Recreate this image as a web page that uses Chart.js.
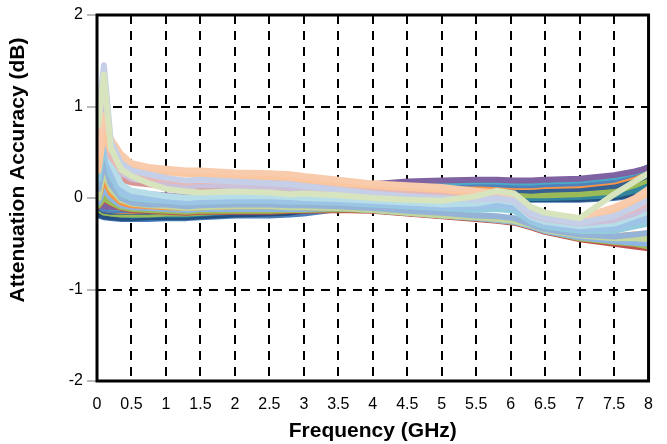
<!DOCTYPE html>
<html>
<head>
<meta charset="utf-8">
<script src="https://cdn.jsdelivr.net/npm/chart.js@4"></script>
<style>
  body { margin: 0; background: #fff; }
  canvas { display: block; }
</style>
</head>
<body>
<canvas id="mainChart" width="667" height="444"></canvas>
<script>
// frequency points (GHz)
const freqGHz = [0.02, 0.1, 0.2, 0.35, 0.5, 0.75, 1, 1.3, 1.5, 2, 2.5, 2.8, 3, 3.5, 4, 4.5, 5, 5.5, 5.8, 6.05, 6.3, 6.5, 7, 7.5, 7.8, 8];

// lighter traces (spike at low frequency, drop after 6 GHz)
const lightGreen = [0.8, 1.35, 0.55, 0.31, 0.24, 0.16, 0.1, 0.07, 0.06, 0.07, 0.06, 0.04, 0.05, 0.03, 0.0, -0.02, -0.03, 0.02, 0.08, 0.05, -0.1, -0.16, -0.22, 0.04, 0.18, 0.27];
const paleBlue = [0.9, 1.45, 0.62, 0.38, 0.3, 0.26, 0.22, 0.19, 0.2, 0.18, 0.16, 0.15, 0.13, 0.09, 0.05, 0.02, 0.0, -0.02, 0.0, -0.03, -0.17, -0.22, -0.27, -0.2, -0.1, -0.02];
const peach = [0.5, 0.9, 0.65, 0.48, 0.38, 0.34, 0.32, 0.3, 0.3, 0.28, 0.27, 0.26, 0.24, 0.2, 0.16, 0.14, 0.12, 0.08, 0.06, 0.03, -0.13, -0.17, -0.22, -0.1, 0.0, 0.1];
const salmon = [0.3, 0.7, 0.52, 0.42, 0.34, 0.3, 0.28, 0.26, 0.26, 0.24, 0.23, 0.22, 0.2, 0.16, 0.13, 0.11, 0.09, 0.05, 0.03, 0.0, -0.15, -0.19, -0.24, -0.16, -0.06, 0.04];
const pink = [0.3, 0.8, 0.45, 0.3, 0.25, 0.22, 0.2, 0.17, 0.19, 0.18, 0.17, 0.16, 0.14, 0.11, 0.08, 0.06, 0.04, 0.02, 0.02, -0.01, -0.17, -0.21, -0.26, -0.2, -0.12, -0.05];
const lavender = [0.5, 1.1, 0.5, 0.28, 0.21, 0.18, 0.15, 0.12, 0.14, 0.13, 0.12, 0.11, 0.09, 0.07, 0.05, 0.03, 0.01, -0.01, 0.0, -0.03, -0.19, -0.23, -0.28, -0.24, -0.17, -0.1];
const lightAqua = [0.6, 0.95, 0.4, 0.15, 0.08, 0.05, 0.02, 0.0, 0.01, 0.02, 0.02, 0.01, 0.0, -0.01, -0.03, -0.05, -0.07, -0.06, -0.02, -0.05, -0.21, -0.26, -0.31, -0.28, -0.2, -0.15];
const skyBlue = [0.4, 0.75, 0.3, 0.08, 0.02, 0.0, -0.02, -0.04, -0.03, -0.02, -0.02, -0.03, -0.03, -0.04, -0.06, -0.08, -0.1, -0.1, -0.08, -0.1, -0.24, -0.29, -0.34, -0.33, -0.27, -0.22];
const aqua = [0.2, 0.6, 0.25, 0.05, 0.0, -0.02, -0.03, -0.05, -0.04, -0.03, -0.03, -0.04, -0.04, -0.05, -0.07, -0.09, -0.11, -0.13, -0.12, -0.14, -0.26, -0.31, -0.36, -0.36, -0.31, -0.28];
const periwinkle = [0.1, 0.4, 0.15, 0.0, -0.05, -0.07, -0.07, -0.09, -0.08, -0.07, -0.07, -0.08, -0.08, -0.09, -0.11, -0.14, -0.16, -0.19, -0.2, -0.22, -0.29, -0.34, -0.4, -0.42, -0.4, -0.38];
const rose = [0.1, 0.5, 0.3, 0.2, 0.17, 0.15, 0.12, 0.1, 0.11, 0.1, 0.09, 0.08, 0.07, 0.04, 0.02, 0.0, -0.02, -0.04, -0.04, -0.06, -0.2, -0.25, -0.3, -0.3, -0.23, -0.18];
const lilac = [0.15, 0.5, 0.2, 0.1, 0.06, 0.04, 0.03, 0.01, 0.02, 0.03, 0.03, 0.02, 0.01, 0.0, -0.02, -0.04, -0.06, -0.07, -0.07, -0.09, -0.22, -0.27, -0.32, -0.33, -0.28, -0.22];
const paleOlive = [0.0, 0.3, 0.1, -0.02, -0.06, -0.08, -0.09, -0.11, -0.1, -0.09, -0.09, -0.1, -0.1, -0.11, -0.13, -0.16, -0.19, -0.21, -0.23, -0.25, -0.3, -0.35, -0.41, -0.44, -0.44, -0.45];
const orangeLow = [0.0, 0.2, 0.05, -0.05, -0.08, -0.09, -0.1, -0.11, -0.1, -0.09, -0.09, -0.09, -0.1, -0.1, -0.11, -0.14, -0.17, -0.19, -0.21, -0.23, -0.28, -0.33, -0.38, -0.42, -0.4, -0.4];
const cornflower = [-0.05, 0.1, 0.0, -0.08, -0.1, -0.11, -0.12, -0.13, -0.12, -0.12, -0.12, -0.12, -0.12, -0.11, -0.13, -0.16, -0.19, -0.22, -0.24, -0.26, -0.31, -0.36, -0.43, -0.47, -0.49, -0.5];
const greenLow = [-0.08, 0.0, -0.05, -0.1, -0.12, -0.13, -0.14, -0.15, -0.14, -0.14, -0.14, -0.13, -0.13, -0.12, -0.13, -0.16, -0.19, -0.22, -0.24, -0.26, -0.31, -0.36, -0.44, -0.48, -0.5, -0.53];
const redLow = [-0.09, -0.01, -0.06, -0.11, -0.13, -0.14, -0.15, -0.16, -0.15, -0.15, -0.15, -0.14, -0.14, -0.13, -0.14, -0.17, -0.2, -0.23, -0.25, -0.27, -0.32, -0.37, -0.45, -0.5, -0.53, -0.55];

// darker traces (rise towards 8 GHz)
const purple = [-0.06, -0.09, -0.1, -0.1, -0.1, -0.1, -0.09, -0.1, -0.08, -0.06, -0.03, -0.01, 0.02, 0.08, 0.15, 0.18, 0.19, 0.2, 0.2, 0.19, 0.19, 0.2, 0.21, 0.25, 0.29, 0.33];
const teal = [0.02, -0.02, -0.11, -0.11, -0.11, -0.11, -0.1, -0.11, -0.09, -0.07, -0.04, -0.02, 0.0, 0.06, 0.13, 0.16, 0.17, 0.18, 0.18, 0.17, 0.17, 0.18, 0.19, 0.23, 0.28, 0.32];
const blue = [-0.08, -0.12, -0.13, -0.13, -0.13, -0.13, -0.12, -0.13, -0.11, -0.09, -0.06, -0.04, -0.02, 0.04, 0.1, 0.13, 0.15, 0.16, 0.15, 0.14, 0.14, 0.15, 0.16, 0.2, 0.27, 0.34];
const orange = [-0.05, -0.12, -0.13, -0.14, -0.14, -0.13, -0.13, -0.13, -0.12, -0.1, -0.07, -0.05, -0.03, 0.02, 0.08, 0.11, 0.12, 0.13, 0.13, 0.12, 0.12, 0.13, 0.14, 0.18, 0.24, 0.3];
const navy = [-0.1, -0.14, -0.15, -0.15, -0.15, -0.15, -0.14, -0.15, -0.13, -0.11, -0.09, -0.07, -0.05, 0.0, 0.05, 0.08, 0.1, 0.11, 0.1, 0.09, 0.08, 0.09, 0.1, 0.13, 0.19, 0.25];
const green = [-0.12, -0.16, -0.17, -0.18, -0.18, -0.18, -0.17, -0.17, -0.16, -0.14, -0.12, -0.1, -0.08, -0.04, 0.01, 0.04, 0.06, 0.07, 0.05, 0.03, 0.03, 0.03, 0.04, 0.07, 0.14, 0.2];
const darkTeal = [-0.02, -0.06, -0.17, -0.18, -0.19, -0.18, -0.18, -0.18, -0.17, -0.15, -0.13, -0.11, -0.09, -0.05, -0.01, 0.02, 0.04, 0.05, 0.02, 0.0, 0.0, 0.0, 0.01, 0.03, 0.08, 0.13];
const darkBlue = [-0.18, -0.2, -0.21, -0.22, -0.22, -0.21, -0.21, -0.21, -0.2, -0.18, -0.17, -0.16, -0.14, -0.1, -0.06, -0.02, 0.01, 0.04, 0.0, -0.02, -0.01, -0.01, -0.01, 0.01, 0.04, 0.08];
const red = [0.22, 0.15, -0.08, -0.14, -0.15, -0.15, -0.14, -0.14, -0.13, -0.11, -0.08, -0.06, -0.04, 0.01, 0.06, 0.09, 0.11, 0.12, 0.11, 0.1, 0.1, 0.1, 0.11, 0.15, 0.2, 0.26];
const darkRed = [0.12, 0.08, -0.1, -0.15, -0.16, -0.16, -0.15, -0.15, -0.14, -0.12, -0.1, -0.08, -0.06, -0.01, 0.04, 0.07, 0.09, 0.1, 0.09, 0.08, 0.07, 0.08, 0.09, 0.12, 0.17, 0.23];
const olive = [-0.14, -0.18, -0.19, -0.2, -0.2, -0.2, -0.19, -0.19, -0.18, -0.16, -0.14, -0.12, -0.1, -0.06, -0.01, 0.02, 0.04, 0.05, 0.03, 0.01, 0.01, 0.01, 0.02, 0.05, 0.11, 0.17];
const steelBlue = [-0.19, -0.21, -0.22, -0.23, -0.23, -0.23, -0.22, -0.22, -0.21, -0.19, -0.19, -0.18, -0.17, -0.12, -0.08, -0.04, 0.0, 0.03, -0.01, -0.03, -0.02, -0.02, -0.02, 0.0, 0.03, 0.06];

const xTicks = [0, 0.5, 1, 1.5, 2, 2.5, 3, 3.5, 4, 4.5, 5, 5.5, 6, 6.5, 7, 7.5, 8];
const yTicks = [-2, -1, 0, 1, 2];

// first in list is drawn on top
const traces = [
  [lightGreen, '#D7E4BD'], [paleBlue, '#C5D0E8'], [peach, '#F8CBAD'], [salmon, '#FAC7A0'],
  [pink, '#E6B9B8'], [lavender, '#CCC1DA'], [lightAqua, '#B7DEE8'], [skyBlue, '#9DC3E6'],
  [aqua, '#93CDDD'], [periwinkle, '#95B3D7'], [rose, '#D99694'], [lilac, '#B3A2C7'],
  [paleOlive, '#C3D69B'], [orangeLow, '#F79646'], [cornflower, '#8DB4E2'], [greenLow, '#9BBB59'],
  [redLow, '#C0504D'],
  [purple, '#7F62A1'], [teal, '#4BACC6'], [blue, '#4F81BD'], [orange, '#F79646'],
  [navy, '#376092'], [green, '#9BBB59'], [darkTeal, '#31859C'], [darkBlue, '#254F7E'],
  [red, '#C0504D'], [darkRed, '#953735'], [olive, '#77933C'], [steelBlue, '#4A7EBB']
];

const datasets = traces.map(function(t, i) {
  return {
    label: 'Trace ' + (i + 1),
    data: freqGHz.map(function(f, j) { return {x: f, y: t[0][j]}; }),
    borderColor: t[1],
    backgroundColor: t[1],
    borderWidth: 6,
    borderJoinStyle: 'round',
    borderCapStyle: 'round',
    pointRadius: 0,
    tension: 0,
    fill: false
  };
});

const tickFont = {family: "'Liberation Sans', Arial, sans-serif", size: 16};

// frame and rotated y title
Chart.register({
  id: 'frame',
  afterDatasetsDraw: function(chart) {
    const a = chart.chartArea, ctx = chart.ctx;
    ctx.save();
    ctx.lineWidth = 3;
    ctx.strokeStyle = '#000';
    ctx.strokeRect(a.left, a.top, a.right - a.left, a.bottom - a.top);
    ctx.restore();
  },
  afterDraw: function(chart) {
    const ctx = chart.ctx;
    ctx.save();
    ctx.translate(18, 170);
    ctx.rotate(-Math.PI / 2);
    ctx.font = "bold 21px 'Liberation Sans', Arial, sans-serif";
    ctx.fillStyle = '#000';
    ctx.textAlign = 'center';
    ctx.textBaseline = 'middle';
    ctx.fillText('Attenuation Accuracy (dB)', 0, 0);
    ctx.restore();
  }
});

const config = {
  type: 'line',
  data: {datasets: datasets},
  options: {
    responsive: false,
    animation: false,
    layout: {padding: {top: 15, right: 5, left: 0, bottom: 0}},
    plugins: {legend: {display: false}, tooltip: {enabled: false}},
    scales: {
      x: {
        type: 'linear',
        min: 0,
        max: 8,
        afterFit: function(s) { s.height = 63; },
        afterBuildTicks: function(s) { s.ticks = xTicks.map(function(v) { return {value: v}; }); },
        ticks: {
          color: '#000',
          font: tickFont,
          padding: 14,
          autoSkip: false,
          maxRotation: 0,
          callback: function(v) { return String(v); }
        },
        grid: {color: '#000', lineWidth: 2, drawTicks: false},
        border: {display: false, dash: [9, 7]},
        title: {
          display: true,
          text: 'Frequency (GHz)',
          color: '#000',
          font: {family: "'Liberation Sans', Arial, sans-serif", size: 21, weight: 'bold'},
          padding: {top: 0, bottom: 0}
        }
      },
      y: {
        min: -2,
        max: 2,
        afterFit: function(s) { s.width = 97; },
        afterBuildTicks: function(s) { s.ticks = yTicks.map(function(v) { return {value: v}; }); },
        ticks: {
          color: '#000',
          font: tickFont,
          padding: 4,
          callback: function(v) { return String(v); }
        },
        grid: {color: '#000', lineWidth: 2, tickLength: 10, tickColor: '#777', tickWidth: 1},
        border: {display: false, dash: [9, 7]}
      }
    }
  }
};

const myChart = new Chart(document.getElementById('mainChart'), config);
</script>
</body>
</html>
